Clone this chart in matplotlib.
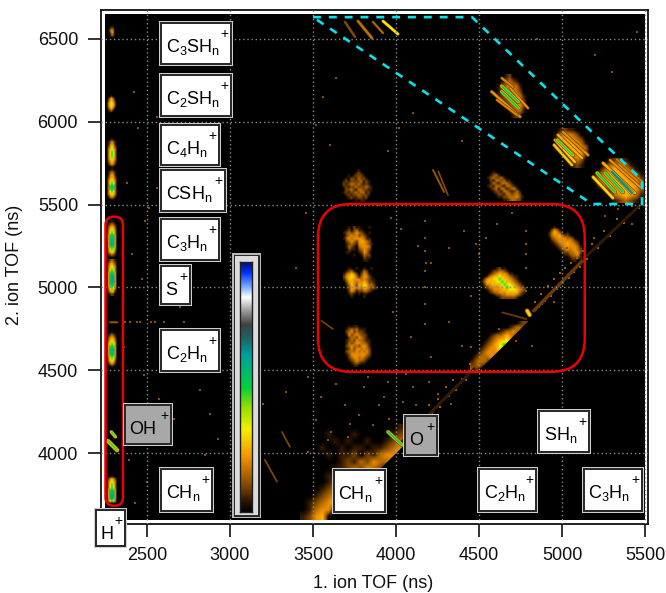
import numpy as np
import matplotlib
matplotlib.use('Agg')
import matplotlib.pyplot as plt
from matplotlib.colors import LinearSegmentedColormap
from matplotlib.patches import Rectangle, FancyBboxPatch, Polygon

plt.rcParams['font.family'] = ['Liberation Sans', 'DejaVu Sans']
plt.rcParams['mathtext.fontset'] = 'custom'
plt.rcParams['mathtext.rm'] = 'Liberation Sans'
plt.rcParams['mathtext.default'] = 'rm'

W, H = 666, 593

# colour scale, bottom to top
scale_pos = [0, .04, .1, .22, .33, .42, .5, .63, .7, .75, .8, .86, .9, .96, 1]
scale_col = ['#000000', '#2a1500', '#7a4400', '#f59400', '#f4f000', '#90e000', '#00d040',
             '#00a0a0', '#206060', '#404040', '#909090', '#ffffff', '#80b0ff', '#0030ff', '#001070']
tof_map = LinearSegmentedColormap.from_list('tof', list(zip(scale_pos, scale_col)))

x_ticks = [2500, 3000, 3500, 4000, 4500, 5000, 5500]
y_ticks = [4000, 4500, 5000, 5500, 6000, 6500]

# digit in a cloud grid -> scale value
digit_levels = [0, .05, .10, .16, .21, .26, .34, .48, .55, .63]

# broad islands: extent (x0, x1, y0, y1) and rows from top to bottom
cloud_a_ext = (3681, 3874, 5154, 5370)
cloud_a = ["0010201000100", "0120231100000", "1232343210100", "0234342321000", "1343444431100",
           "0234324543200", "0123214443210", "0132103444300", "0021102343200", "0110001243100",
           "0000100132200", "0000000021100", "0000000011000"]
cloud_b_ext = (3681, 3890, 4937, 5118)
cloud_b = ["00100100100100", "01231001320000", "13454202431000", "24565313442100",
           "13554443432110", "02454344542210", "01354254653320", "01254343543221",
           "00243122332100", "00121010110000", "00010000100000"]
cloud_c_ext = (3681, 3874, 4521, 4774)
cloud_c = ["0010110000000", "0123231110000", "0234232210000", "0142343221000", "0023324321000",
           "0123243321100", "0132344332100", "0234332443100", "0124244343200", "0233343434200",
           "0124444443200", "0023443432100", "0012343321000", "0001232110000", "0000110000000"]
cloud_d_ext = (4512, 4783, 4931, 5123)
cloud_d = ["000000120100000000", "000012233210000000", "000123454431100000", "001345565543211000",
           "024556676554321000", "135555667655432100", "024455556766543210", "012344455676654321",
           "001234445556665432", "000123344455555321", "000001223344443210", "000000012222221000"]
cloud_e_ext = (4916, 5115, 5154, 5370)
cloud_e = ["0010000000000", "0243100000000", "1354310100000", "1344532210000", "0234444332000",
           "0123444443210", "0012344544320", "0001234444431", "0000123434432", "0000012233442",
           "0000001123341", "0000000012221", "0000000001100"]
cloud_f_ext = (4446, 4790, 4490, 4793)
cloud_f = ["000000000000000122", "000000000000123320", "000000000123343300", "000000123345432000",
           "000001234556530000", "000012345676400000", "000123445653000000", "001234444420000000",
           "012333432000000000", "123332100000000000", "223210000000000000", "321000000000000000"]
cloud_g_ext = (3663, 3873, 5515, 5708)
cloud_g = ["00000001000000", "00000012100000", "00010122210000", "00102213221000",
           "01212222312100", "02123323212100", "01212232223210", "00223213322110",
           "01212232331200", "00121223222100", "00012112212000", "00000010110000"]
cloud_h_ext = (4548, 4765, 5520, 5696)
cloud_h = ["00100000000000", "01231000000000", "12322310000000", "02133231100000",
           "01321333210000", "12133213321000", "01231331233100", "00122133212310",
           "00012213323320", "00001122333421", "00000011233220"]
cloud_i_ext = (4590, 4800, 6020, 6280)
cloud_i = ["0001200000", "0012321000", "0123433100", "0134443200", "0123444310",
           "0012344320", "0001234420", "0000123310", "0000012100"]
cloud_j_ext = (4930, 5180, 5720, 5960)
cloud_j = ["0012110000", "0134432000", "0134543200", "0134454310", "0123454430",
           "0012345420", "0001234410", "0000123200", "0000012100"]
cloud_k_ext = (5150, 5490, 5510, 5780)
cloud_k = ["00001221000", "00013443100", "00134544310", "01345554431", "01345555442",
           "00234555543", "00012455542", "00001345431", "00000123210"]
cloud_low_ext = (3422, 4040, 3598, 4172)
cloud_low = ["0000000000000001", "0000100010000012", "0000010100100123", "0001001011011234",
             "0000101120213445", "0000001213243340", "0000011232432000", "0000112343400000",
             "0000123430000000", "0001234400000000", "0012344000000000", "0123450000000000",
             "0134400000000000", "1245000000000000"]

# left column, ion 1 = H+
col_c3s_ext = (2258, 2318, 6500, 6590)
col_c3s = ["0000000", "0012100", "0134300", "0024300", "0013200", "0000000"]
col_c2s_ext = (2253, 2318, 6045, 6155)
col_c2s = ["0001000", "0135310", "0245420", "0356530", "0356530", "0245410", "0123100", "0000000"]
col_c4_ext = (2253, 2323, 5720, 5900)
col_c4 = ["0001000", "0124210", "0135310", "0246420", "0356530", "0367630", "0367630", "0367630",
          "0356530", "0245420", "0134310", "0001000"]
col_cs_ext = (2253, 2323, 5520, 5715)
col_cs = ["0001000", "0123210", "0135310", "0245420", "0356530", "0367630", "0378730", "0378730",
          "0367630", "0356530", "0134310", "0001000"]
col_c3_ext = (2253, 2323, 5170, 5400)
col_c3 = ["0001000", "0123210", "0245420", "0356530", "0367630", "0478740", "0488840", "0488840",
          "0489840", "0478740", "0367630", "0356520", "0123210", "0000000"]
col_s_ext = (2253, 2323, 4950, 5170)
col_s = ["0123210", "0245320", "0356530", "0367630", "0478740", "0489840", "0489940", "0489840",
         "0478740", "0367630", "0245410", "0012100"]
col_c2_ext = (2253, 2323, 4515, 4735)
col_c2 = ["0001000", "0123210", "0245420", "0356530", "0467640", "0478740", "0488840", "0488840",
          "0478740", "0367630", "0356520", "0134310", "0001000"]
col_ch_ext = (2253, 2323, 3690, 3870)
col_ch = ["0001000", "0245420", "0356530", "0367630", "0367630", "0478740", "0488840", "0489840",
          "0489840", "0367630", "0000000"]

cloud_names = [(cloud_a, cloud_a_ext), (cloud_b, cloud_b_ext), (cloud_c, cloud_c_ext),
               (cloud_d, cloud_d_ext), (cloud_e, cloud_e_ext), (cloud_f, cloud_f_ext),
               (cloud_g, cloud_g_ext), (cloud_h, cloud_h_ext), (cloud_i, cloud_i_ext),
               (cloud_j, cloud_j_ext), (cloud_k, cloud_k_ext), (cloud_low, cloud_low_ext),
               (col_c3s, col_c3s_ext), (col_c2s, col_c2s_ext), (col_c4, col_c4_ext), (col_cs, col_cs_ext),
               (col_c3, col_c3_ext), (col_s, col_s_ext), (col_c2, col_c2_ext), (col_ch, col_ch_ext)]

# narrow ridges: x0, y0, x1, y1, scale value, width in points
left_column = [
    (2275, 4795, 2320, 4795, .14, 1.6),
    (2285, 4130, 2310, 4100, .46, 2.8), (2265, 4075, 2320, 4020, .46, 3.6),
]
streaks = [
    (3210, 3962, 3283, 3830, .11, 1.3), (3313, 4130, 3361, 4040, .11, 1.3),
    (4223, 5708, 4290, 5575, .13, 1.6), (4255, 5700, 4313, 5557, .11, 1.3),
    (3693, 6600, 3753, 6510, .11, 2.0), (3771, 6605, 3855, 6503, .17, 2.4),
    (3861, 6600, 3922, 6533, .15, 1.8), (3922, 6605, 4012, 6527, .34, 2.4),
    (3952, 4130, 4036, 4052, .50, 3.0),
    (4640, 4850, 4785, 4810, .09, 1.3), (4790, 4860, 4805, 4835, .30, 3.6),
    (3550, 4800, 3620, 4750, .10, 1.3),
    (4040, 4075, 4470, 4510, .05, 2.2), (4830, 4860, 5127, 5165, .09, 2.6), (5127, 5170, 5490, 5515, .05, 2.0),
]
island_top = [
    (4637, 6262, 4705, 6208, .20, 2.2), (4576, 6180, 4747, 6029, .22, 2.6),
    (4687, 6202, 4795, 6081, .22, 2.2), (4608, 6130, 4729, 6039, .20, 2.2),
    (4637, 6214, 4737, 6119, .50, 3.0), (4637, 6180, 4737, 6081, .50, 3.0),
]
island_mid = [
    (5006, 5937, 5157, 5798, .21, 2.6), (4976, 5919, 5120, 5780, .26, 2.6),
    (4958, 5889, 5078, 5756, .30, 2.6), (4952, 5859, 5060, 5738, .30, 2.6),
    (4970, 5889, 5066, 5798, .48, 2.8),
]
island_low = [
    (5329, 5772, 5482, 5640, .18, 2.0),
    (5289, 5768, 5470, 5606, .22, 2.4), (5247, 5750, 5440, 5569, .26, 2.6),
    (5187, 5666, 5307, 5539, .32, 2.8), (5211, 5690, 5319, 5575, .50, 3.0),
    (5259, 5690, 5367, 5575, .50, 3.0), (5301, 5696, 5422, 5569, .66, 3.0),
]

# scattered single counts
speck_x = [2420, 2610, 2445, 2560, 2380, 2510, 2640, 2470, 2700, 2395, 2525, 2600, 2440, 2360, 2740, 2480,
           2820, 2570, 2400, 2660, 2450, 2880, 2530, 2390, 2620, 2780, 2500, 2430, 2680, 2340, 2590,
           2460, 2550, 2370, 2720, 2640, 2410, 2490, 2560, 2850, 2930, 3040,
           3120, 3200, 3340, 3470, 3520, 3610, 3690, 3720, 3590, 3470, 3550, 3640, 3710, 3780, 3860,
           3900, 3960, 3810, 4040, 4100, 3930, 4120, 3700, 3830, 3950, 4060, 4200, 4250, 4330, 4400,
           4450, 4090, 4210, 4320, 4400, 3980, 3400, 3460, 3500, 3900, 3970, 4030, 4130, 4210, 4320,
           4410, 4480, 4180, 4175, 4175, 4175, 4175, 4175, 4175, 4175, 4540, 4610, 4700, 4785, 4785,
           4785, 4785, 4785, 4500, 4450, 4620, 4720, 4820, 4880, 4950, 5030, 5190, 5260, 5340, 5420,
           5200, 5300, 3600, 3520, 3560, 3640, 3950, 4020, 4100, 4180, 4500, 4400, 4850, 5450]
speck_y = [6180, 6350, 5960, 6030, 5630, 5480, 5300, 5050, 4880, 4795, 4790, 4795, 4790, 4640, 4590, 4470,
           4380, 4330, 4290, 4210, 4180, 4240, 4070, 3960, 3900, 3870, 3830, 3700, 3760, 3650, 3660,
           4795, 4790, 4790, 4795, 4700, 5200, 5400, 5600, 3990, 4090, 3900,
           3700, 4300, 4370, 4460, 4200, 4130, 4290, 4180, 4080, 4010, 4340, 4420, 4100, 4230, 4170,
           4290, 4210, 4400, 4310, 4400, 4340, 4290, 4490, 4460, 4430, 4480, 4430, 4360, 4300, 4450,
           4640, 4700, 4580, 4790, 4650, 4850, 5120, 5450, 5230, 5500, 5420, 5350, 5250, 5150, 5240,
           5340, 5260, 5150, 5400, 5300, 5220, 5100, 5000, 4900, 4780, 5300, 5380, 5450, 5340, 5260,
           5200, 5120, 4980, 5200, 4950, 4750, 4680, 4650, 4900, 4910, 5240, 5300, 5430, 5470, 5380,
           6400, 6300, 5860, 5980, 6150, 6260, 5820, 5960, 6050, 6170, 5970, 5880, 6500, 6540]
# counts strung along the diagonal, uneven on purpose as in the picture
diag_x = [4060, 4075, 4095, 4110, 4125, 4155, 4170, 4200, 4215, 4250, 4265, 4300, 4320, 4345, 4360, 4395,
          4420, 4445, 4470, 4840, 4860, 4875, 4895, 4915, 4935, 4950, 4970, 4990, 5005, 5020, 5040, 5055,
          5075, 5090, 5110, 5125, 5150, 5180, 5215, 5250, 5290, 5330, 5375, 5420, 5465]
diag_y = [4110, 4150, 4105, 4190, 4170, 4230, 4190, 4290, 4245, 4330, 4280, 4400, 4345, 4440, 4385, 4490,
          4445, 4540, 4495, 4910, 4880, 4960, 4920, 5010, 4950, 5050, 4990, 5090, 5030, 5120, 5055, 5150,
          5095, 5180, 5125, 5220, 5170, 5260, 5235, 5340, 5310, 5410, 5390, 5490, 5480]

# labels: text, box left/top/right/bottom in pixels, grey or not
labels = [
    (r'C$_3$SH$_n$', 159, 21, 233, 66, False), (r'C$_2$SH$_n$', 159, 73, 233, 118, False),
    (r'C$_4$H$_n$', 159, 123, 221, 167, False), (r'CSH$_n$', 159, 168, 227, 213, False),
    (r'C$_3$H$_n$', 159, 217, 221, 262, False), (r'S', 159, 264, 192, 306, False),
    (r'C$_2$H$_n$', 159, 328, 221, 373, False), (r'OH', 123, 403, 173, 446, True),
    (r'CH$_n$', 159, 467, 214, 513, False), (r'H', 94, 508, 127, 548, False),
    (r'CH$_n$', 332, 468, 387, 514, False), (r'O', 403, 414, 439, 457, True),
    (r'C$_2$H$_n$', 477, 467, 538, 513, False), (r'SH$_n$', 537, 409, 591, 454, False),
    (r'C$_3$H$_n$', 582, 467, 644, 513, False),
]

fig = plt.figure(figsize=(W / 100, H / 100), dpi=100)
ax = fig.add_axes([101 / W, 1 - 524 / H, 547 / W, 514 / H])
ax.set_facecolor('white')
xlim = (2223, 5518)
ylim = (3575, 6672)

# black plot area inside the white margin
ax.add_patch(Rectangle((2247, 3598), 3253, 3052, fc='black', ec='none', zorder=0))


def draw_cloud(rows, ext):
    levels = [[digit_levels[int(c)] for c in r] for r in rows]
    ax.imshow(levels, extent=ext, cmap=tof_map, vmin=0, vmax=1, aspect='auto',
              interpolation='bilinear', origin='upper', zorder=1)


def draw_ridge(x0, y0, x1, y1, level, width):
    steps = [v for v in [.08, .14, .22, .33, .5, .63] if v < level] + [level]
    for i, v in enumerate(steps):
        lw = width * (1 - .7 * i / len(steps))
        ax.plot([x0, x1], [y0, y1], color=tof_map(v), lw=lw, solid_capstyle='round', zorder=2)


for rows, ext in cloud_names:
    draw_cloud(rows, ext)

# nothing lies below the diagonal
ax.add_patch(Polygon([(3598, 3598), (5500, 3598), (5500, 5500)], fc='black', ec='none', zorder=1.5))

ax.scatter(speck_x, speck_y, s=4, marker='s', color=tof_map(.12), linewidths=0, zorder=1.8)
ax.scatter(diag_x, diag_y, s=4.5, marker='s', color=tof_map(.14), linewidths=0, zorder=1.8)
for ridge in left_column + streaks + island_top + island_mid + island_low:
    draw_ridge(*ridge)

ax.set_xlim(xlim)
ax.set_ylim(ylim)
ax.set_xticks(x_ticks)
ax.set_yticks(y_ticks)
ax.tick_params(length=9.5, width=1.2, labelsize=13, pad=7, color='#101010', labelcolor='#101010')
ax.grid(True, color='#8a8a8a', ls=(0, (1, 2)), lw=1.0)
ax.set_axisbelow(False)
for s in ax.spines.values():
    s.set_linewidth(1.3)
    s.set_color('#101010')
fig.text(373 / W, 1 - 583 / H, '1. ion TOF (ns)', fontsize=13, ha='center', va='center', color='#101010')
fig.text(15 / W, 1 - 265 / H, '2. ion TOF (ns)', fontsize=13, ha='center', va='center',
         rotation=90, color='#101010')

# red regions
ax.add_patch(FancyBboxPatch((3730, 4692), 1207, 611, boxstyle='round,pad=200,rounding_size=200',
                            fc='none', ec='#ee0000', lw=1.8, zorder=3))
ax.add_patch(FancyBboxPatch((2300, 3735), 5, 1642, boxstyle='round,pad=50,rounding_size=50',
                            fc='none', ec='#ee0000', lw=1.8, zorder=3))
# cyan region
ax.add_patch(Polygon([(3500, 6629), (4458, 6629), (5482, 5648), (5482, 5503), (5180, 5503)], closed=True,
                     fc='none', ec='#00e5ee', lw=1.9, ls=(0, (3, 3)), zorder=3))


def px_rect(left, top, right, bottom, color, z):
    r = Rectangle((left / W, 1 - bottom / H), (right - left) / W, (bottom - top) / H,
                  transform=fig.transFigure, fc=color, ec='none', zorder=z)
    fig.add_artist(r)


for text, left, top, right, bottom, grey in labels:
    px_rect(left, top, right, bottom, '#cfcfcf', 5)
    px_rect(left + 1.3, top + 1.3, right - 1.3, bottom - 1.3, '#2a2a2a', 5.1)
    px_rect(left + 3.3, top + 3.3, right - 3.3, bottom - 3.3, '#a8a8a8' if grey else 'white', 5.2)
    fig.text((left + 6.5) / W, 1 - (top + 31) / H, text, fontsize=13, color='black', va='baseline', zorder=6)
    fig.text((right - 9) / W, 1 - (top + 13) / H, '+', fontsize=10, color='black',
             ha='center', va='center', zorder=6)

# colour scale bar
px_rect(232, 253, 261, 518, '#b8b8b8', 5)
px_rect(233.5, 254.5, 259.5, 516.5, '#2a2a2a', 5.1)
px_rect(235, 256, 258, 515, '#dcdcdc', 5.2)
cax = fig.add_axes([240 / W, 1 - 512 / H, 12 / W, 250 / H], zorder=7)
cax.imshow(np.linspace(1, 0, 256).reshape(-1, 1), cmap=tof_map, vmin=0, vmax=1, aspect='auto')
cax.set_xticks([])
cax.set_yticks([])
for s in cax.spines.values():
    s.set_linewidth(1.0)
    s.set_color('#202020')

fig.savefig('out.png', dpi=100)
